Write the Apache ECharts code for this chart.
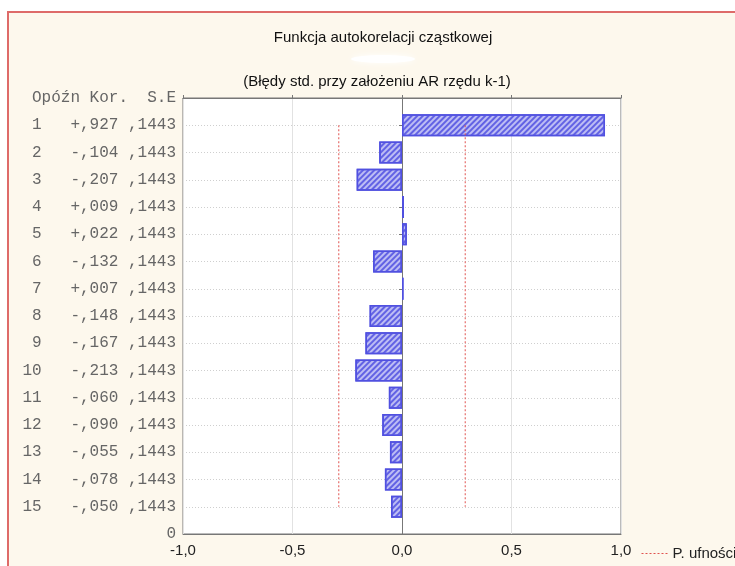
<!DOCTYPE html>
<html>
<head>
<meta charset="utf-8">
<script src="https://cdn.jsdelivr.net/npm/echarts@6/dist/echarts.min.js"></script>
<style>
html,body{margin:0;padding:0;background:#fff;}
#chart{width:735px;height:566px;}
</style>
</head>
<body>
<div id="chart"></div>
<script>
// ---- data ----
const lags = [1,2,3,4,5,6,7,8,9,10,11,12,13,14,15];
const corr = [0.927,-0.104,-0.207,0.009,0.022,-0.132,0.007,-0.148,-0.167,-0.213,-0.060,-0.090,-0.055,-0.078,-0.050];
const stdErr = [0.1443,0.1443,0.1443,0.1443,0.1443,0.1443,0.1443,0.1443,0.1443,0.1443,0.1443,0.1443,0.1443,0.1443,0.1443];
const headerLabel = 'Opóźn Kor.  S.E';
const bottomLabel = '0';
const xTicks = [-1, -0.5, 0, 0.5, 1];
const title = 'Funkcja autokorelacji cząstkowej';
const subtitle = '(Błędy std. przy założeniu AR rzędu k-1)';
const limitName = 'P. ufności';

// ---- build ----
function fmtCorr(v){
  const s = v >= 0 ? '+' : '-';
  return s + ',' + String(Math.round(Math.abs(v)*1000)).padStart(3,'0');
}
function fmtSe(v){
  return ',' + String(Math.round(v*10000));
}
const rowLabels = [headerLabel].concat(
  lags.map((l,i) => String(l).padStart(2,' ') + '   ' + fmtCorr(corr[i]) + ' ' + fmtSe(stdErr[i])),
  [bottomLabel]
);
const cats = rowLabels.map((_,i) => String(i));
const barData = lags.map((l,i) => [corr[i], i+1]);
const lowerLim = lags.map((l,i) => [-2*stdErr[i], i+1]);
const upperLim = lags.map((l,i) => [2*stdErr[i], i+1]);
const rowOnly = (idx) => idx >= 1 && idx <= lags.length;

const chart = echarts.init(document.getElementById('chart'), null, {renderer:'canvas'});
const limitStyle = {color:'#e0524f', width:1, type:[2,2]};
chart.setOption({
  backgroundColor:'#ffffff',
  animation:false,
  aria:{enabled:true, decal:{show:true}},
  graphic:[
    {type:'rect', z:-10, shape:{x:8, y:12, width:800, height:700},
     style:{fill:'#fdf8ed', stroke:'#de6b69', lineWidth:2}},
    {type:'ellipse', z:-5, shape:{cx:383, cy:59, rx:32, ry:4},
     style:{fill:'rgba(255,255,255,0.95)', shadowBlur:6, shadowColor:'#ffffff'}}
  ],
  title:[
    {text:title, left:378, top:25, textAlign:'center',
     textStyle:{fontFamily:'Liberation Sans', fontSize:15, fontWeight:'normal', color:'#111'}},
    {text:subtitle, left:372, top:69, textAlign:'center',
     textStyle:{fontFamily:'Liberation Sans', fontSize:15, fontWeight:'normal', color:'#111'}}
  ],
  legend:{
    data:[limitName], left:636, top:541, itemWidth:26, itemHeight:10, itemGap:9,
    textStyle:{fontFamily:'Liberation Sans', fontSize:15, color:'#222'},
    itemStyle:{opacity:0},
    lineStyle:limitStyle
  },
  grid:{left:183, right:114, top:98, bottom:32, show:true, backgroundColor:'#ffffff', borderColor:'#777', borderWidth:1},
  xAxis:[
    {type:'value', position:'bottom', min:-1, max:1, interval:0.5,
     axisLine:{show:true, lineStyle:{color:'#777'}},
     axisTick:{show:false},
     axisLabel:{margin:9, fontFamily:'Liberation Sans', fontSize:15, color:'#222',
       formatter:(v)=> xTicks.indexOf(v) >= 0 ? v.toFixed(1).replace('.',',') : ''},
     splitLine:{show:true, lineStyle:{color:'#e2e2e2', width:1}}},
    {type:'value', position:'top', min:-1, max:1, interval:0.5,
     axisLine:{show:true, lineStyle:{color:'#777'}},
     axisTick:{show:true, length:3, lineStyle:{color:'#777'}},
     axisLabel:{show:false}, splitLine:{show:false}}
  ],
  yAxis:[
    {type:'category', data:cats, inverse:true, boundaryGap:false, position:'left',
     axisLine:{show:true, lineStyle:{color:'#777'}},
     axisTick:{show:true, length:3, interval:(i)=>rowOnly(i), lineStyle:{color:'#777'}},
     axisLabel:{interval:0, margin:7, fontFamily:'Liberation Mono', fontSize:16, color:'#666',
       formatter:(v, i)=> rowLabels[Number(v)]},
     splitLine:{show:true, interval:(i)=>rowOnly(i), lineStyle:{color:'#cfcfcf', type:[1,2]}}},
    {type:'category', data:cats, inverse:true, boundaryGap:false, position:'right',
     axisLine:{show:true, lineStyle:{color:'#777'}},
     axisTick:{show:true, inside:true, length:3, interval:(i)=>rowOnly(i), lineStyle:{color:'#777'}},
     axisLabel:{show:false}, splitLine:{show:false}}
  ],
  series:[
    {type:'bar', name:'Kor.', data:barData, xAxisIndex:0, yAxisIndex:0, barWidth:22, z:3,
     itemStyle:{color:'#bdbdf4', borderColor:'#5050e0', borderWidth:1.5,
       decal:{symbol:'rect', symbolSize:1, dashArrayX:[1,0], dashArrayY:[1.2,1.6], rotation:-Math.PI/4, color:'#6262e4'}}},
    {type:'line', name:limitName, data:lowerLim, xAxisIndex:0, yAxisIndex:0, symbol:'none', z:5,
     lineStyle:limitStyle, itemStyle:{color:'#e0524f'}},
    {type:'line', name:limitName, data:upperLim, xAxisIndex:0, yAxisIndex:0, symbol:'none', z:5,
     lineStyle:limitStyle, itemStyle:{color:'#e0524f'}}
  ]
});
</script>
</body>
</html>
